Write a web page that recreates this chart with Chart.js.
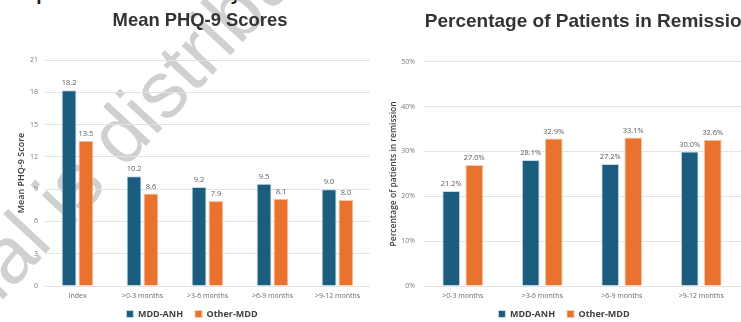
<!DOCTYPE html>
<html lang="en">
<head>
<meta charset="UTF-8">
<title>Mean PHQ-9 Scores | Remission</title>
<style>
  html, body { margin: 0; padding: 0; background: #fff; }
  body { width: 741px; height: 322px; overflow: hidden; position: relative; font-family: "Liberation Sans", Arial, sans-serif; }
  .heading { position: absolute; left: 12px; top: -15px; font-size: 19px; line-height: 18px; font-weight: bold; color: #222; white-space: nowrap; }
  .mark { position: absolute; left: -189px; top: 407px; font-size: 80px; line-height: 80px; color: #d0d0d0; white-space: nowrap; transform-origin: 0 0; transform: rotate(-47deg); z-index: 0; }
  .card { position: absolute; top: 0; height: 322px; z-index: 1; }
  #left { left: 0; width: 372px; }
  #right { left: 370px; width: 372px; }
</style>
</head>
<body>
  <div class="heading">Depression Outcomes by Cohort</div>
  <div class="mark">Material is distributed</div>
  <div class="card" id="left"><canvas id="phqChart"></canvas></div>
  <div class="card" id="right"><canvas id="remChart"></canvas></div>

<script src="https://cdn.jsdelivr.net/npm/chart.js"></script>
<script>
  // data
  const phqLabels = ['Index', '>0-3 months', '>3-6 months', '>6-9 months', '>9-12 months'];
  const phqAnh = [18.2, 10.2, 9.2, 9.5, 9.0];
  const phqOther = [13.5, 8.6, 7.9, 8.1, 8.0];
  const phqTicks = [0, 3, 6, 9, 12, 15, 18, 21];

  const remLabels = ['>0-3 months', '>3-6 months', '>6-9 months', '>9-12 months'];
  const remAnh = [21.2, 28.1, 27.2, 30.0];
  const remOther = [27.0, 32.9, 33.1, 32.6];
  const remTicks = [0, 10, 20, 30, 40, 50];

  const seriesNames = ['MDD-ANH', 'Other-MDD'];

  const BLUE = '#1a5d7e';
  const ORANGE = '#e9722f';
  const TICK_FONT = '"Open Sans", sans-serif';

  // value labels above bars
  const barValues = {
    id: 'barValues',
    afterDatasetsDraw(chart, args, opts) {
      const ctx = chart.ctx;
      ctx.save();
      ctx.font = '7.5px ' + TICK_FONT;
      ctx.fillStyle = '#5a5a5a';
      ctx.textAlign = 'center';
      ctx.textBaseline = 'middle';
      chart.data.datasets.forEach((ds, i) => {
        chart.getDatasetMeta(i).data.forEach((bar, j) => {
          ctx.fillText(ds.data[j].toFixed(1) + opts.suffix, bar.x, bar.y - opts.gap);
        });
      });
      ctx.restore();
    }
  };

  // move title / legend a little after layout
  const nudge = {
    id: 'nudge',
    afterLayout(chart, args, opts) {
      const t = chart.titleBlock, l = chart.legend;
      if (t) { t.left += opts.titleX; t.right += opts.titleX; }
      if (l) {
        l.left += opts.legendX; l.right += opts.legendX;
        l.top += opts.legendY; l.bottom += opts.legendY;
      }
    }
  };

  function barChart(id, cfg) {
    new Chart(document.getElementById(id), {
      type: 'bar',
      data: {
        labels: cfg.labels,
        datasets: [
          { label: seriesNames[0], data: cfg.anh, backgroundColor: BLUE, borderColor: '#c6dae4', borderWidth: 1 },
          { label: seriesNames[1], data: cfg.other, backgroundColor: ORANGE, borderColor: '#f6c8a9', borderWidth: 1 }
        ]
      },
      plugins: [barValues, nudge],
      options: {
        responsive: true,
        maintainAspectRatio: false,
        animation: false,
        datasets: { bar: { categoryPercentage: cfg.catPct, barPercentage: cfg.barPct } },
        layout: { padding: { left: 12, right: cfg.padRight, top: 0, bottom: -11 } },
        plugins: {
          title: {
            display: true,
            text: cfg.title,
            color: '#333333',
            font: { family: '"Liberation Sans", Arial, sans-serif', size: cfg.titleSize, weight: 'bold' },
            padding: { top: 10, bottom: cfg.titleGap }
          },
          legend: {
            position: 'bottom',
            labels: {
              boxWidth: 7,
              boxHeight: 7,
              padding: 12,
              color: '#404040',
              font: { family: TICK_FONT, size: 9, weight: 'bold' }
            }
          },
          tooltip: { enabled: false },
          barValues: { suffix: cfg.suffix, gap: 7 },
          nudge: { titleX: cfg.titleX, legendX: cfg.legendX, legendY: -4.5 }
        },
        scales: {
          x: {
            grid: { display: false, drawTicks: false },
            border: { display: false },
            ticks: { color: '#6b6b6b', padding: 6, maxRotation: 0, autoSkip: false, font: { family: TICK_FONT, size: 7 } },
            afterFit: s => { s.height = 16; }
          },
          y: {
            min: 0,
            max: cfg.ticks[cfg.ticks.length - 1],
            afterBuildTicks: s => { s.ticks = cfg.ticks.map(v => ({ value: v })); },
            afterFit: s => { s.width = cfg.yWidth; },
            grid: { color: '#e3e3e3', lineWidth: 1, drawTicks: false },
            border: { display: false },
            ticks: {
              color: '#7a7a7a',
              padding: cfg.tickPad,
              font: { family: TICK_FONT, size: 7 },
              callback: v => v + cfg.suffix
            },
            title: {
              display: true,
              text: cfg.yTitle,
              color: '#404040',
              padding: { top: cfg.yTitlePad, bottom: 0 },
              font: { family: TICK_FONT, size: cfg.yTitleSize, weight: '600' }
            }
          }
        }
      }
    });
  }

  // Mean PHQ-9
  barChart('phqChart', {
    labels: phqLabels, anh: phqAnh, other: phqOther, ticks: phqTicks,
    title: 'Mean PHQ-9 Scores', yTitle: 'Mean PHQ-9 Score', suffix: '',
    catPct: 0.52, barPct: 0.88, padRight: 2, yWidth: 33, tickPad: 7,
    yTitleSize: 9, yTitlePad: 4, titleSize: 18.4, titleGap: 28, titleX: 9, legendX: 1
  });

  // Remission
  barChart('remChart', {
    labels: remLabels, anh: remAnh, other: remOther, ticks: remTicks,
    title: 'Percentage of Patients in Remission', yTitle: 'Percentage of patients in remission', suffix: '%',
    catPct: 0.58, barPct: 0.77, padRight: 1, yWidth: 41, tickPad: 8,
    yTitleSize: 8.5, yTitlePad: 6, titleSize: 19, titleGap: 29, titleX: 27.5, legendX: 2.5
  });
</script>
</body>
</html>
